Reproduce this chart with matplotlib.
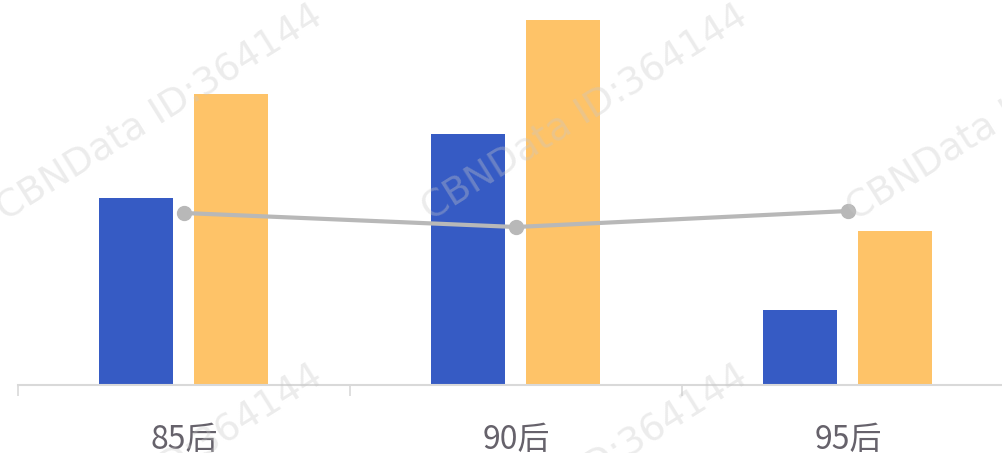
import matplotlib.pyplot as plt
import numpy as np

plt.rcParams['font.family'] = ['Noto Sans CJK SC', 'DejaVu Sans']

categories = ['85后', '90后', '95后']
blue_vals = [187, 251, 75]
orange_vals = [291, 365, 154]
line_vals = [172, 158, 174]

W, H = 1003, 453
fig = plt.figure(figsize=(W / 100, H / 100), dpi=100)
# axes: left edge at 18px, baseline at 385px from top
ax = fig.add_axes([18 / W, (H - 385) / H, (W - 18) / W, 385 / H])

x = np.arange(len(categories))
bw = 74 / 332
off = 47.5 / 332
ax.bar(x - off, blue_vals, bw, color='#365bc4', zorder=2)
ax.bar(x + off, orange_vals, bw, color='#fec368', zorder=2)
ax.plot(x, line_vals, color='#b8b8b8', linewidth=3, marker='o',
        markersize=10, zorder=3)

for s in ['top', 'right', 'left']:
    ax.spines[s].set_visible(False)
ax.spines['bottom'].set_color('#d9d9d9')
ax.spines['bottom'].set_linewidth(1.5)
ax.set_yticks([])

ax.set_xticks([-0.5, 0.5, 1.5])
ax.set_xticklabels([])
ax.tick_params(axis='x', which='major', length=8, width=1.2, color='#d9d9d9')
ax.set_xticks(x, minor=True)
ax.set_xticklabels(categories, minor=True)
ax.tick_params(axis='x', which='minor', length=0, pad=28,
               labelsize=23, labelcolor='#66626b')

ax.set_xlim(-0.5, -0.5 + (W - 18) / 332)
ax.set_ylim(0, 385)

# watermarks
for cx in [160, 585, 1010]:
    for cy in [113, 473]:
        fig.text(cx / W, 1 - cy / H, 'CBNData ID:364144', rotation=32,
                 ha='center', va='center', fontsize=27, color='#c8c8c8',
                 alpha=0.35, family=['DejaVu Sans'], zorder=10)

fig.savefig('out.png', dpi=100)
